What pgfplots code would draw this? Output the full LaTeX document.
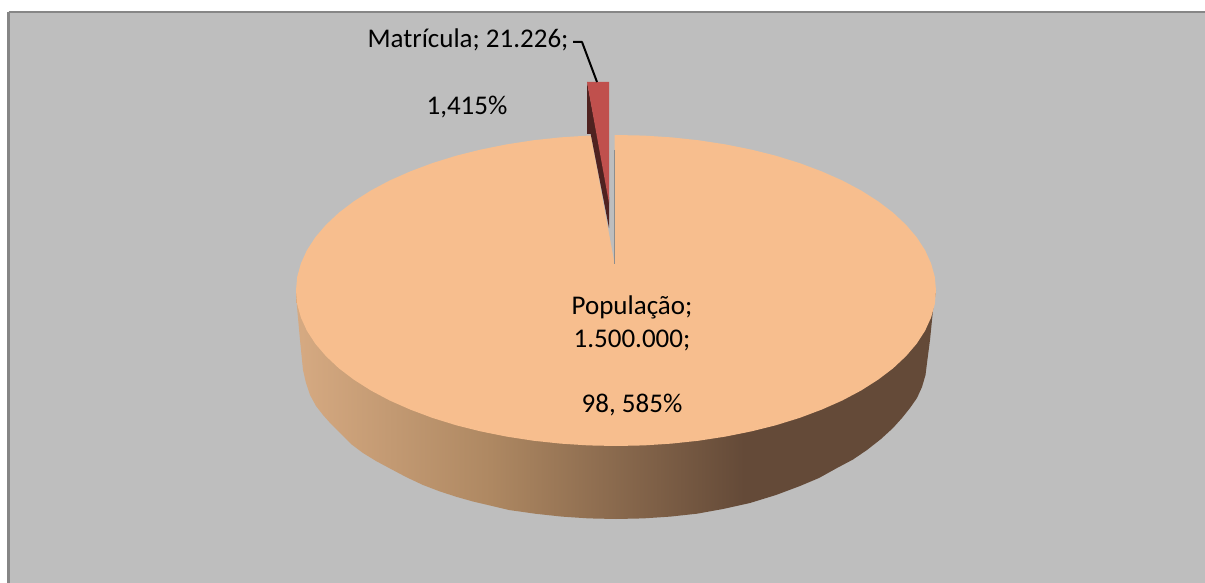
\documentclass[border=0pt]{standalone}
\usepackage{pgfplots}
\pgfplotsset{compat=1.18}
\usepackage{fontspec}
\setmainfont{Carlito}
\definecolor{bg}{HTML}{BEBEBE}
\definecolor{frame}{HTML}{868686}
\definecolor{peach}{HTML}{F7BE8E}
\definecolor{sideL}{HTML}{D6AA82}
\definecolor{sideM}{HTML}{AE8862}
\definecolor{sideR}{HTML}{644A38}
\definecolor{redtop}{HTML}{C0504D}
\definecolor{reddark}{HTML}{4F2220}
\pgfdeclarehorizontalshading{sidegrad}{100bp}{color(0bp)=(sideL); color(25bp)=(sideL); color(40.2bp)=(sideM); color(60bp)=(sideR); color(100bp)=(sideR)}
\begin{document}
\begin{tikzpicture}
\begin{axis}[
  scale only axis, width=1205pt, height=583pt,
  xmin=0, xmax=1205, ymin=0, ymax=583, y dir=reverse,
  hide axis, clip=true,
  every axis plot/.append style={line join=round}
]
% page and chart area
\addplot[draw=none, fill=white] coordinates {(0,0)(1205,0)(1205,583)(0,583)};
\addplot[draw=frame, line width=2.5pt, fill=bg] coordinates {(8.5,12)(1220,12)(1220,600)(8.5,600)(8.5,12)};
% side of the disc
\addplot[draw=none, shade, shading=sidegrad] coordinates {
(936,290.5)(933,310)(930,340)
(927,363)(925.5,375)(922,387)(917,398)(910,408)(902,418)(893,428)(881,439)(867,450)(853,459.5)(837,468)(819,478)(800,486)(776,495)(750,503)(723,509)(697,513.7)(670.3,516.6)(643.3,518.4)(616,519)
(588.7,518.4)(561.7,516.6)(535,513.7)(509,510)(490,505.5)(473,501.5)(457,497)(440,491.5)(423,485)(406,477)(390,468.5)(376,461)(363,453)(351,444)(340,433)(331,424)(323,415)(316,406)(310,395)(306,383)(303,370)
(300,340)(297,307)(296,290.5)};
% top face
\addplot[draw=none, fill=peach] coordinates {
(936,290.5)(934.8,304.1)(931.1,317.5)(925.1,330.7)(916.7,343.7)(906,356.2)(893.1,368.3)(878.1,379.7)(861.1,390.5)(842.3,400.5)(821.7,409.6)(799.6,417.9)(776,425.2)(751.2,431.4)(725.4,436.6)(698.8,440.7)(671.6,443.6)(643.9,445.4)(616,446)
(588.1,445.4)(560.4,443.6)(533.2,440.7)(506.6,436.6)(480.8,431.4)(456,425.2)(432.4,417.9)(410.3,409.6)(389.7,400.5)(370.9,390.5)(353.9,379.7)(338.9,368.3)(326,356.2)(315.3,343.7)(306.9,330.7)(300.9,317.5)(297.2,304.1)(296,290.5)
(297.2,276.9)(300.9,263.5)(306.9,250.3)(315.3,237.3)(326,224.8)(338.9,212.7)(353.9,201.3)(370.9,190.5)(389.7,180.5)(410.3,171.4)(432.4,163.1)(456,155.8)(480.8,149.6)(506.6,144.4)(533.2,140.3)(560.4,137.4)(588.1,135.6)(616,135)
(643.9,135.6)(671.6,137.4)(698.8,140.3)(725.4,144.4)(751.2,149.6)(776,155.8)(799.6,163.1)(821.7,171.4)(842.3,180.5)(861.1,190.5)(878.1,201.3)(893.1,212.7)(906,224.8)(916.7,237.3)(925.1,250.3)(931.1,263.5)(934.8,276.9)};
% gap left by the exploded slice
\addplot[draw=none, fill=bg] coordinates {(614.7,264)(614.7,130)(590,130)};
\addplot[line width=1.2pt, color=black!25!bg] coordinates {(614.7,150)(614.7,264)};
% exploded slice
\addplot[draw=none, fill=reddark] coordinates {(587,82)(609,197)(609,228)(590.7,134)(587,134)};
\addplot[draw=none, fill=redtop] coordinates {(587,82)(609,82)(609,203)};
% leader
\addplot[line width=2pt, color=black] coordinates {(573,42)(582,42)(597,82)};
\node[anchor=center, font=\fontsize{27}{27}\selectfont] at (axis cs:468,40) {Matrícula; 21.226;};
\node[anchor=center, font=\fontsize{27}{27}\selectfont] at (axis cs:467,107) {1,415\%};
\node[anchor=center, font=\fontsize{27}{27}\selectfont] at (axis cs:632,307) {População;};
\node[anchor=center, font=\fontsize{27}{27}\selectfont] at (axis cs:632,340) {1.500.000;};
\node[anchor=center, font=\fontsize{27}{27}\selectfont] at (axis cs:632,405) {98, 585\%};
\end{axis}
\end{tikzpicture}
\end{document}
